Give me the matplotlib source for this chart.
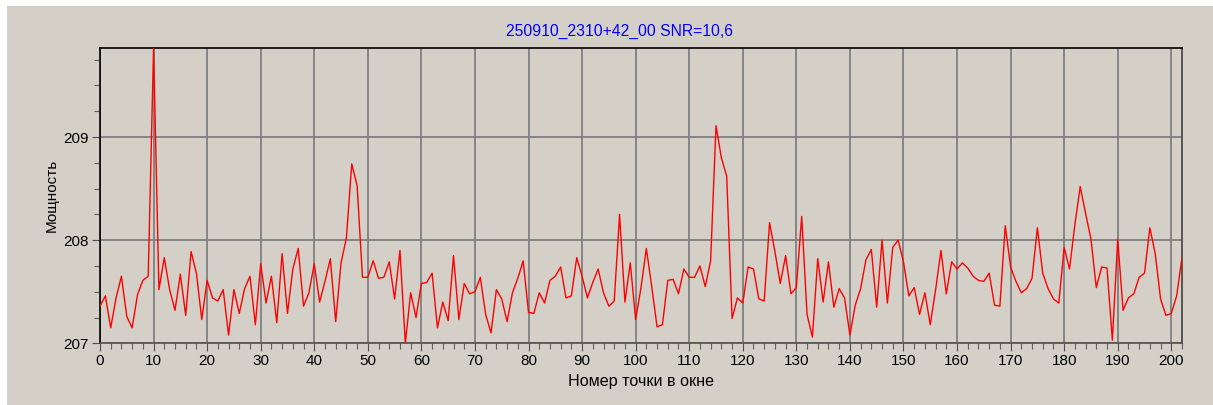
import matplotlib
matplotlib.use("Agg")
import matplotlib.pyplot as plt
from matplotlib import font_manager
from matplotlib.patches import Rectangle
from matplotlib.ticker import MultipleLocator

# ---- data ----
title_text = "250910_2310+42_00 SNR=10,6"
xlabel_text = "Номер точки в окне"
ylabel_text = "Мощность"

power = [
    207.36, 207.46, 207.15, 207.44, 207.65, 207.26, 207.15, 207.47, 207.61, 207.65,  # 0-9
    209.86, 207.52, 207.83, 207.52, 207.32, 207.67, 207.27, 207.89, 207.68, 207.23,  # 10-19
    207.61, 207.44, 207.41, 207.52, 207.08, 207.52, 207.29, 207.53, 207.65, 207.18,  # 20-29
    207.77, 207.39, 207.65, 207.20, 207.87, 207.29, 207.72, 207.92, 207.36, 207.49,  # 30-39
    207.77, 207.40, 207.60, 207.82, 207.21, 207.78, 208.02, 208.74, 208.53, 207.64,  # 40-49
    207.64, 207.80, 207.63, 207.64, 207.79, 207.43, 207.90, 207.00, 207.49, 207.25,  # 50-59
    207.58, 207.59, 207.68, 207.15, 207.40, 207.22, 207.85, 207.23, 207.58, 207.48,  # 60-69
    207.50, 207.64, 207.28, 207.10, 207.52, 207.43, 207.21, 207.49, 207.63, 207.80,  # 70-79
    207.30, 207.29, 207.49, 207.39, 207.61, 207.65, 207.74, 207.44, 207.46, 207.83,  # 80-89
    207.65, 207.44, 207.59, 207.72, 207.49, 207.36, 207.41, 208.25, 207.40, 207.78,  # 90-99
    207.23, 207.54, 207.92, 207.55, 207.16, 207.18, 207.61, 207.62, 207.48, 207.72,  # 100-109
    207.64, 207.64, 207.75, 207.55, 207.80, 209.11, 208.80, 208.62, 207.24, 207.44,  # 110-119
    207.39, 207.74, 207.72, 207.43, 207.41, 208.17, 207.89, 207.58, 207.85, 207.48,  # 120-129
    207.54, 208.23, 207.28, 207.06, 207.82, 207.40, 207.79, 207.35, 207.53, 207.44,  # 130-139
    207.08, 207.37, 207.53, 207.81, 207.91, 207.35, 208.00, 207.39, 207.93, 208.00,  # 140-149
    207.79, 207.46, 207.54, 207.28, 207.49, 207.18, 207.52, 207.90, 207.48, 207.79,  # 150-159
    207.72, 207.78, 207.73, 207.65, 207.61, 207.60, 207.68, 207.37, 207.36, 208.14,  # 160-169
    207.74, 207.60, 207.49, 207.53, 207.63, 208.12, 207.68, 207.53, 207.43, 207.39,  # 170-179
    207.93, 207.72, 208.15, 208.52, 208.26, 208.01, 207.54, 207.74, 207.73, 207.03,  # 180-189
    208.01, 207.32, 207.44, 207.48, 207.64, 207.68, 208.12, 207.87, 207.43, 207.27,  # 190-199
    207.29, 207.46, 207.83,                                                          # 200-202
]
points = list(range(len(power)))
x_ticks = list(range(0, 201, 10))
y_ticks = [207, 208, 209]

# ---- fonts ----
available = {f.name for f in font_manager.fontManager.ttflist}
fam = "Liberation Sans" if "Liberation Sans" in available else "DejaVu Sans"
plt.rcParams["font.family"] = [fam, "DejaVu Sans"]

BG = "#d4d0c8"
W, H = 1213, 405
fig = plt.figure(figsize=(W / 100, H / 100), dpi=100, facecolor="white")
bgrect = Rectangle((7 / W, 0), (W - 7) / W, (H - 6) / H,
                   transform=fig.transFigure, facecolor=BG,
                   edgecolor="none", zorder=-10)
fig.patches.append(bgrect)

ax = fig.add_axes([100 / W, 1 - 343.3 / H, (1182 - 100) / W, (343.3 - 48.3) / H])
ax.set_zorder(5)
ax.set_facecolor(BG)
ax.plot(points, power, color="#ff0000", lw=1.0, zorder=3)

ax.set_xlim(0, 202)
ax.set_ylim(min(power), max(power))
ax.set_xticks(x_ticks)
ax.set_yticks(y_ticks)
ax.xaxis.set_minor_locator(MultipleLocator(2))
ax.yaxis.set_minor_locator(MultipleLocator(0.25))
ax.grid(True, which="major", color="#808080", lw=1.3, zorder=1)
ax.tick_params(which="major", direction="out", length=6, width=0.8, color="#505050",
               labelsize=11, pad=2)
ax.tick_params(which="minor", direction="out", length=4, width=0.8, color="#606060")
ax.spines["left"].set_color("#000000")
ax.spines["top"].set_color("#000000")
ax.spines["bottom"].set_color("#505050")
ax.spines["right"].set_color("#404040")
for s in ax.spines.values():
    s.set_linewidth(1.2)

fig.text(619 / W, 1 - 31 / H, title_text, color="#0000ff", fontsize=11.3,
         ha="center", va="center")
ax.set_xlabel(xlabel_text, fontsize=11.6, labelpad=4)
ax.set_ylabel(ylabel_text, fontsize=11, labelpad=3)

fig.savefig("out.png", dpi=100, facecolor="white")
